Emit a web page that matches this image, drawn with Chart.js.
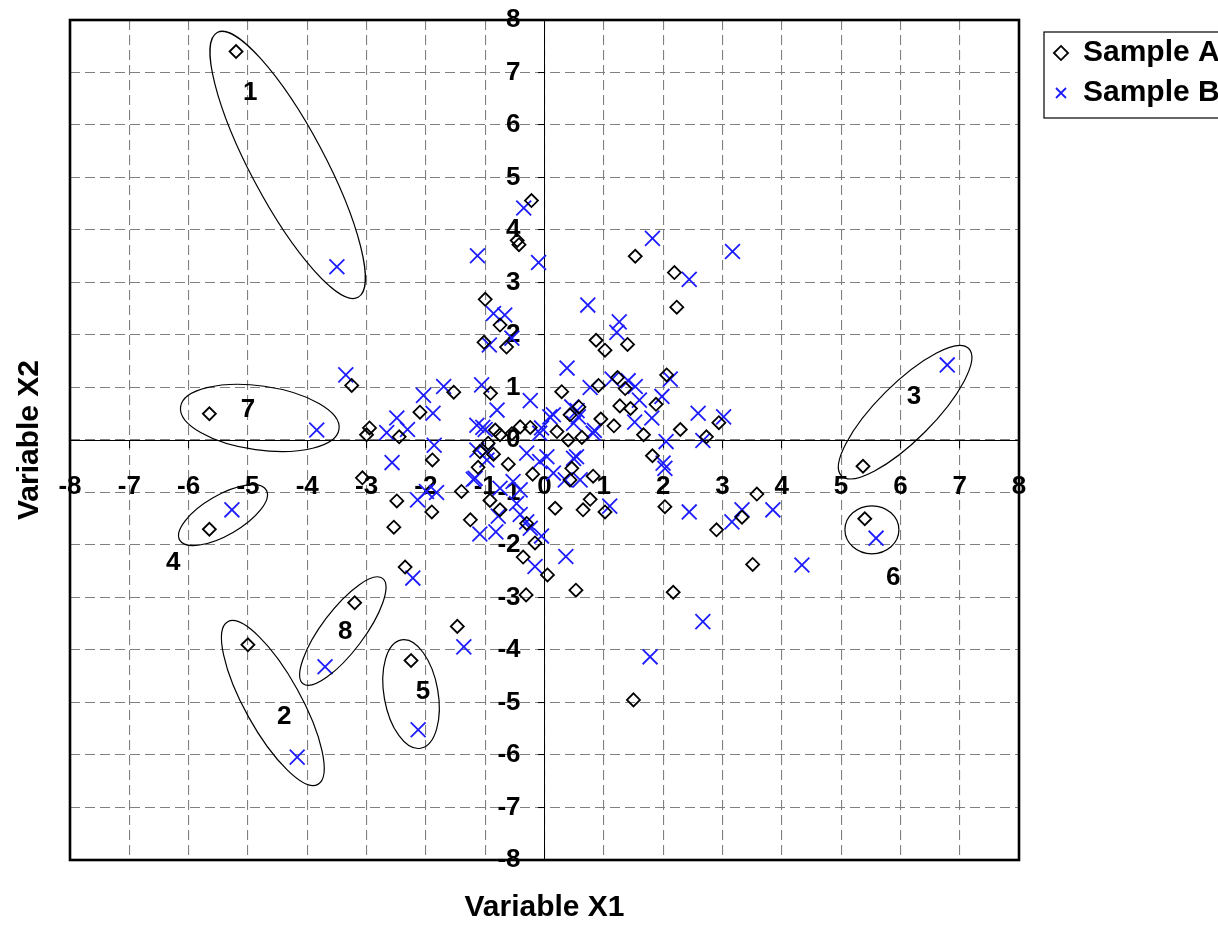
<!DOCTYPE html>
<html><head><meta charset="utf-8">
<script src="https://cdn.jsdelivr.net/npm/chart.js@4.4.1/dist/chart.umd.min.js"></script>
<style>html,body{margin:0;padding:0;background:#fff}#wrap{width:1218px;height:926px;position:relative}</style>
</head><body><div id="wrap"><canvas id="c"></canvas></div>
<script>
const seriesNames = ['Sample A', 'Sample B'];
const axisTicks = [-8,-7,-6,-5,-4,-3,-2,-1,0,1,2,3,4,5,6,7,8];
const axisTitles = ['Variable X1', 'Variable X2'];

const sampleA = [
  [-5.2,7.4],[-5.65,0.5],[-5.65,-1.7],[-5.0,-3.9],[-3.2,-3.1],[-2.25,-4.2],[-1.47,-3.55],[-2.35,-2.42],
  [1.5,-4.95],[2.17,-2.9],[0.53,-2.86],[-0.31,-2.95],[0.05,-2.57],[5.37,-0.5],[5.4,-1.5],[3.51,-2.37],
  [3.58,-1.03],[2.9,-1.71],[2.03,-1.27],[3.33,-1.47],[-0.22,4.56],[-0.46,3.8],[-0.43,3.72],[-1.0,2.68],
  [-0.75,2.19],[-1.02,1.86],[-0.64,1.77],[-3.25,1.04],[-1.53,0.91],[-0.91,0.89],[-2.1,0.53],[-2.95,0.23],
  [-3.0,0.1],[-2.45,0.06],[-0.41,0.25],[-0.24,0.24],[-0.75,0.1],[-0.83,0.19],[-0.95,-0.06],[-1.09,-0.22],
  [-0.86,-0.27],[-1.89,-0.38],[-0.61,-0.46],[-1.12,-0.52],[-3.07,-0.72],[-2.49,-1.16],[-1.9,-1.37],[-2.54,-1.66],
  [-1.4,-0.98],[-1.25,-1.52],[-0.92,-1.15],[-0.75,-1.33],[-0.2,-0.65],[-0.3,-1.59],[-0.16,-1.96],[-0.36,-2.23],
  [0.18,-1.3],[0.21,0.16],[0.4,0.0],[0.63,0.05],[1.67,0.1],[2.29,0.2],[2.73,0.06],[2.94,0.33],
  [1.82,-0.3],[0.46,-0.54],[0.43,-0.76],[0.82,-0.69],[0.65,-1.33],[0.77,-1.13],[1.02,-1.37],[1.53,3.5],
  [2.19,3.19],[2.23,2.53],[0.87,1.9],[1.02,1.71],[1.4,1.82],[2.06,1.24],[0.29,0.92],[0.91,1.04],
  [1.23,1.19],[1.36,0.98],[0.58,0.63],[0.43,0.48],[1.27,0.65],[1.45,0.6],[1.88,0.68],[0.95,0.4],
  [1.17,0.27],[-0.55,0.12]
];
const sampleB = [
  [-3.5,3.3],[-3.84,0.19],[-5.27,-1.33],[-4.17,-6.04],[-3.7,-4.32],[-2.13,-5.52],[-1.36,-3.94],[-2.22,-2.63],
  [5.59,-1.87],[6.79,1.43],[1.78,-4.13],[2.67,-3.46],[0.36,-2.22],[-0.16,-2.41],[-1.13,3.51],[-0.35,4.42],
  [-0.1,3.38],[1.82,3.84],[3.17,3.59],[2.44,3.06],[0.73,2.57],[1.26,2.25],[1.22,2.05],[0.38,1.37],
  [0.77,1.0],[1.14,1.16],[1.41,1.13],[1.53,1.02],[2.12,1.16],[1.98,0.83],[1.6,0.76],[0.15,0.48],
  [0.55,0.56],[0.49,0.32],[0.84,0.18],[1.52,0.34],[1.81,0.42],[2.59,0.51],[3.02,0.44],[2.05,-0.03],
  [2.67,-0.01],[2.03,-0.54],[0.49,-0.35],[0.04,-0.32],[0.35,-0.76],[0.6,-0.76],[1.1,-1.26],[2.44,-1.37],
  [3.16,-1.56],[3.33,-1.33],[3.85,-1.33],[4.34,-2.38],[-0.05,-1.83],[-0.86,2.41],[-0.67,2.38],[-0.93,1.81],
  [-0.55,1.94],[-3.35,1.24],[-2.04,0.85],[-1.7,1.02],[-1.06,1.05],[-0.24,0.75],[-0.8,0.57],[-1.88,0.51],
  [-2.49,0.42],[-2.66,0.14],[-2.31,0.2],[-1.86,-0.1],[-1.14,0.28],[-1.04,0.24],[-1.0,0.2],[-2.57,-0.43],
  [-2.14,-1.14],[-1.82,-1.0],[-1.2,-0.75],[-1.09,-1.79],[-0.82,-1.75],[-0.78,-1.45],[-0.41,-1.42],[-0.3,-1.56],
  [-0.24,-1.68],[-0.3,-0.25],[-0.08,-0.41],[-0.53,-0.79],[-0.41,-0.95],[-0.97,-0.22],[0.09,0.44],[-0.08,0.13],
  [-1.14,-0.19],[-0.97,-0.38],[-0.47,-1.21],[0.15,-0.63],[-0.75,-0.92],[0.82,0.13],[0.57,0.44],[0.46,0.63],
  [0.54,-0.32],[2.0,-0.44],[-1.99,-0.98],[-1.17,-0.73],[-0.05,0.23]
];

// Group outlines: centre in data units, label anchor in data units
const groupIds = ['1','2','3','4','5','6','7','8'];
const groupCentres = [[-4.33,5.24],[-4.58,-5.01],[6.08,0.53],[-5.42,-1.43],[-2.25,-4.84],[5.52,-1.71],[-4.8,0.42],[-3.4,-3.64]];
const groupLabelPos = [[-4.96,6.61],[-4.39,-5.28],[6.23,0.82],[-6.26,-2.34],[-2.05,-4.8],[5.88,-2.63],[-5.0,0.57],[-3.36,-3.66]];
// outline shape (pixels / degrees)
const groupShape = [[150,37,62],[93,28,61],[90,28,-45],[50,20,-30],[55,27,80],[27,24,0],[80,32,8],[66,21,-53]];

const F = "'Liberation Sans', Arial, Helvetica, sans-serif";
const toPts = arr => arr.map(p => ({x: p[0], y: p[1]}));

const overlay = {
  id: 'overlay',
  beforeDatasetsDraw(chart) {
    const {ctx, chartArea: a} = chart;
    ctx.save();
    ctx.strokeStyle = '#000'; ctx.lineWidth = 2.6;
    ctx.strokeRect(a.left, a.top, a.right - a.left, a.bottom - a.top);
    ctx.restore();
  },
  afterDatasetsDraw(chart) {
    const {ctx, scales: {x, y}} = chart;
    ctx.save();
    ctx.strokeStyle = '#000'; ctx.lineWidth = 1.2;
    groupCentres.forEach((c, i) => {
      const [rx, ry, rot] = groupShape[i];
      ctx.beginPath();
      ctx.ellipse(x.getPixelForValue(c[0]), y.getPixelForValue(c[1]), rx, ry, rot * Math.PI / 180, 0, Math.PI * 2);
      ctx.stroke();
    });
    ctx.fillStyle = '#000';
    ctx.font = 'bold 26px ' + F;
    ctx.textAlign = 'center'; ctx.textBaseline = 'middle';
    groupLabelPos.forEach((p, i) => {
      ctx.fillText(groupIds[i], x.getPixelForValue(p[0]), y.getPixelForValue(p[1]));
    });
    ctx.restore();
  },
  afterDraw(chart) {
    const lg = chart.legend;
    if (!lg || !lg.legendHitBoxes || !lg.legendHitBoxes.length) return;
    const hb = lg.legendHitBoxes;
    const last = hb[hb.length - 1];
    const {ctx} = chart;
    ctx.save();
    ctx.strokeStyle = '#000'; ctx.lineWidth = 1.2;
    const x0 = hb[0].left - 10, y0 = hb[0].top - 6, y1 = last.top + last.height + 10;
    ctx.strokeRect(x0, y0, chart.width + 20 - x0, y1 - y0);
    ctx.restore();
  }
};

new Chart(document.getElementById('c'), {
  type: 'scatter',
  data: {
    datasets: [
      {label: seriesNames[0], data: toPts(sampleA), pointStyle: 'rectRot', pointRadius: 6.5, pointHoverRadius: 6.5,
       borderColor: '#000', backgroundColor: 'rgba(0,0,0,0)', borderWidth: 1.8},
      {label: seriesNames[1], data: toPts(sampleB), pointStyle: 'crossRot', pointRadius: 10.5, pointHoverRadius: 10.5,
       borderColor: '#1c1cff', backgroundColor: '#1c1cff', borderWidth: 1.8}
    ]
  },
  options: {
    responsive: true, maintainAspectRatio: false, animation: false, devicePixelRatio: 1,
    events: [],
    layout: {padding: {top: 20, right: 0, bottom: 0, left: 0}, autoPadding: false},
    scales: {
      x: {
        type: 'linear', min: -8, max: 8, position: 'center',
        afterBuildTicks: s => { s.ticks = axisTicks.map(v => ({value: v})); },
        ticks: {autoSkip: false, maxRotation: 0, padding: 24, color: '#000', font: {family: F, size: 26, weight: 'bold'}},
        grid: {color: '#808080', lineWidth: 1.1, tickLength: 7, tickColor: '#000', tickWidth: 1},
        border: {display: true, color: '#000', width: 1, dash: [10, 5]}
      },
      y: {
        type: 'linear', min: -8, max: 8, position: 'center',
        afterBuildTicks: s => { s.ticks = axisTicks.map(v => ({value: v})); },
        ticks: {autoSkip: false, padding: 0, color: '#000', font: {family: F, size: 26, weight: 'bold'}},
        grid: {color: '#808080', lineWidth: 1.1, tickLength: 24, tickColor: '#000', tickWidth: 1, tickBorderDash: [6, 60]},
        border: {display: true, color: '#000', width: 1, dash: [10, 5]}
      },
      gap: {
        type: 'linear', axis: 'y', position: 'right', display: true,
        grid: {display: false, drawTicks: false}, border: {display: false}, ticks: {display: false},
        afterFit: s => { s.width = 25; }
      }
    },
    plugins: {
      tooltip: {enabled: false},
      legend: {
        position: 'right', align: 'start', maxWidth: 174,
        title: {display: true, text: '', font: {size: 8, lineHeight: 1}, padding: 0},
        labels: {usePointStyle: true, boxWidth: 14, boxHeight: 10, padding: 10, color: '#000',
                 font: {family: F, size: 30, weight: 'bold'}}
      },
      title: {display: true, text: axisTitles[0], position: 'bottom', fullSize: false, color: '#000',
              font: {family: F, size: 30, weight: 'bold'}, padding: {top: 30, bottom: 0}},
      subtitle: {display: true, text: axisTitles[1], position: 'left', fullSize: false, color: '#000',
                 font: {family: F, size: 30, weight: 'bold'}, padding: {top: 12, bottom: 22}}
    }
  },
  plugins: [overlay]
});
</script>
</body></html>
